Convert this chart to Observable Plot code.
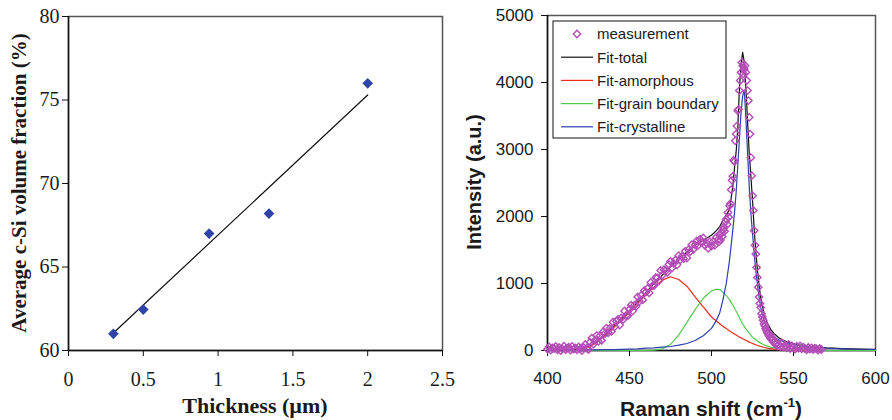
<!DOCTYPE html>
<html><head><meta charset="utf-8">
<script src="https://cdn.jsdelivr.net/npm/d3@7"></script>
<script src="https://cdn.jsdelivr.net/npm/@observablehq/plot@0.6"></script>
<style>
html,body{margin:0;padding:0;background:#fff;}
#wrap{display:flex;width:892px;height:420px;overflow:hidden;}
#wrap svg{display:block;flex:none;}
</style></head><body><div id="wrap"></div>
<script>
// ---------- Left panel data ----------
const thickness = [0.3, 0.5, 0.94, 1.34, 2.0];
const fraction = [61.0, 62.45, 67.0, 68.2, 76.0];
const trendThick = [0.3, 2.0];
const trendFrac = [61.05, 75.3];
const thickTicks = [0, 0.5, 1, 1.5, 2, 2.5];
const fracTicks = [60, 65, 70, 75, 80];

// ---------- Right panel data ----------
const ramanTicks = [400, 450, 500, 550, 600];
const intensityTicks = [0, 1000, 2000, 3000, 4000, 5000];

// measurement: segment A 400..504 step 1
const measAStart = 400, measAStep = 1;
const measA = [
  20,55,5,40,30,60,10,45,0,25,
  65,15,35,50,5,60,20,40,10,55,
  25,0,45,90,35,15,125,185,95,150,
  225,135,220,150,280,250,335,265,330,285,
  425,355,435,465,380,485,460,590,525,520,
  615,675,590,675,660,800,735,820,755,895,
  870,925,860,1015,965,970,1090,1085,1040,1195,
  1125,1205,1190,1165,1285,1330,1235,1300,1350,1280,
  1415,1355,1405,1370,1480,1380,1505,1475,1580,1510,
  1575,1635,1575,1660,1610,1680,1570,1600,1525,1625,
  1560,1625,1570,1690,1655
];
// segment B 504.5..540 step 0.5
const measBStart = 504.5, measBStep = 0.5;
const measB = [
  1620,1720,1650,1760,1700,1800,1840,1780,1920,1960,
  1880,2060,1990,2160,2190,2400,2540,2600,2840,2820,
  3130,3230,3350,3580,3600,3880,4030,4150,4300,4250,
  4130,4200,4250,4150,4030,3880,3730,3480,3230,2880,
  2610,2310,2090,1790,1570,1440,1240,1090,945,800,
  700,640,550,500,450,400,370,330,300,270,
  250,220,240,180,200,150,170,120,140,90,
  110,70
];
// segment C 541..567 step 1
const measCStart = 541, measCStep = 1;
const measC = [
  90,60,110,50,80,40,90,30,70,45,
  20,60,35,70,25,50,30,10,45,20,
  40,15,35,25,5,30,15
];

// fit curves
const fitShift = [400,410,420,425,430,435,440,445,450,455,
  460,465,470,475,480,485,490,495,500,503,
  505,507,509,511,513,514,515,516,517,518,
  519,520,521,522,523,524,525,526,527,528,
  529,530,532,534,536,538,541,544,548,552,
  557,562,570,580,590,600];
const fitTotal = [0,5,20,60,130,235,345,470,590,725,
  865,1000,1125,1250,1365,1470,1570,1650,1720,1790,
  1850,1940,2020,2110,2450,2720,2960,3300,3900,4270,
  4450,4300,3900,3420,2950,2600,2250,1820,1480,1200,
  980,780,560,410,320,255,190,150,115,90,
  68,52,38,27,20,16];
const fitAmorphous = [0,0,10,50,120,220,330,450,570,700,
  830,950,1050,1100,1060,960,800,650,500,440,
  400,360,330,290,260,245,230,215,200,190,
  175,165,150,140,125,115,105,95,85,75,
  68,60,45,35,28,20,12,6,2,0,
  0,0,0,0,0,0];
const fitGrain = [0,0,0,0,0,0,0,0,0,0,
  0,5,25,90,230,420,610,780,890,915,
  910,870,820,760,680,630,590,540,490,440,
  400,360,320,290,260,230,200,180,160,140,
  125,110,85,65,50,38,22,12,5,2,
  0,0,0,0,0,0];
const fitCrystalline = [0,3,5,8,10,12,14,16,20,25,
  35,40,50,60,80,105,150,220,330,450,
  560,760,1000,1350,1800,2050,2350,2750,3150,3550,
  3800,3880,3450,2950,2450,2050,1750,1450,1200,990,
  800,640,440,320,250,200,160,130,100,80,
  62,48,35,25,19,15];

const seriesNames = ["measurement", "Fit-total", "Fit-amorphous", "Fit-grain boundary", "Fit-crystalline"];
const seriesColors = ["#b54cb8", "#111111", "#ee2b1f", "#55c94f", "#2b3fae"];

// ---------- build tables ----------
const pts = thickness.map((t, i) => ({t, f: fraction[i]}));
const trend = trendThick.map((t, i) => ({t, f: trendFrac[i]}));
const meas = [
  ...measA.map((v, i) => ({x: measAStart + i * measAStep, y: v})),
  ...measB.map((v, i) => ({x: measBStart + i * measBStep, y: v})),
  ...measC.map((v, i) => ({x: measCStart + i * measCStep, y: v}))
];
const fits = [fitTotal, fitAmorphous, fitGrain, fitCrystalline].map((arr, k) =>
  arr.map((v, i) => ({x: fitShift[i], y: v, s: seriesNames[k + 1]})));

const wrap = document.getElementById("wrap");

// ---------- left panel ----------
const left = Plot.plot({
  width: 460, height: 420,
  marginLeft: 68, marginRight: 18, marginTop: 16, marginBottom: 70,
  style: {fontFamily: "Liberation Serif", fontSize: "20px", color: "#111", background: "#fff"},
  x: {domain: [0, 2.5]},
  y: {domain: [60, 80]},
  marks: [
    Plot.frame({stroke: "#555", strokeWidth: 1.5}),
    Plot.ruleX([0], {stroke: "#111", strokeWidth: 1.5}),
    Plot.ruleY([60], {stroke: "#111", strokeWidth: 1.5}),
    Plot.axisX({ticks: thickTicks, tickSize: 6, tickPadding: 15, label: null, tickFormat: d => String(d), fill: "#1a1a1a"}),
    Plot.axisY({ticks: fracTicks, tickSize: 6, tickPadding: 3, label: null, tickFormat: d => String(d), fill: "#1a1a1a"}),
    Plot.line(trend, {x: "t", y: "f", stroke: "#111", strokeWidth: 1.2}),
    Plot.dot(pts, {x: "t", y: "f", symbol: "diamond2", r: 4.8, fill: "#2e44a6", stroke: "none"})
  ]
});
const ls = d3.select(left);
ls.append("text")
  .attr("transform", "translate(26,183) rotate(-90)")
  .attr("text-anchor", "middle")
  .attr("font-family", "Liberation Serif").attr("font-weight", "bold").attr("font-size", 21)
  .attr("fill", "#1a1a1a")
  .text("Average c-Si volume fraction (%)");
ls.append("text")
  .attr("x", 255).attr("y", 413)
  .attr("text-anchor", "middle")
  .attr("font-family", "Liberation Serif").attr("font-weight", "bold").attr("font-size", 22)
  .attr("fill", "#1a1a1a")
  .text("Thickness (\u00b5m)");
wrap.appendChild(left);

// ---------- right panel ----------
const right = Plot.plot({
  width: 432, height: 420,
  marginLeft: 87, marginRight: 17, marginTop: 15, marginBottom: 70,
  style: {fontFamily: "Liberation Sans", fontSize: "17px", color: "#111", background: "#fff"},
  x: {domain: [400, 600]},
  y: {domain: [0, 5000]},
  marks: [
    Plot.frame({stroke: "#555", strokeWidth: 1.5}),
    Plot.ruleX([400], {stroke: "#111", strokeWidth: 1.5}),
    Plot.ruleY([0], {stroke: "#111", strokeWidth: 1.5}),
    Plot.axisX({ticks: ramanTicks, tickSize: 6, tickPadding: 15, label: null, tickFormat: d => String(d), fill: "#1a1a1a"}),
    Plot.axisY({ticks: intensityTicks, tickSize: 6, tickPadding: 8, label: null, tickFormat: d => String(d), fill: "#1a1a1a"}),
    Plot.line(fits[0], {x: "x", y: "y", stroke: seriesColors[1], strokeWidth: 1.2}),
    Plot.line(fits[1], {x: "x", y: "y", stroke: seriesColors[2], strokeWidth: 1.2}),
    Plot.line(fits[2], {x: "x", y: "y", stroke: seriesColors[3], strokeWidth: 1.2}),
    Plot.line(fits[3], {x: "x", y: "y", stroke: seriesColors[4], strokeWidth: 1.2}),
    Plot.dot(meas, {x: "x", y: "y", symbol: "diamond2", r: 3.3, fill: "none", stroke: seriesColors[0], strokeWidth: 1.4})
  ]
});
const rs = d3.select(right);
rs.append("text")
  .attr("transform", "translate(21,182) rotate(-90)")
  .attr("text-anchor", "middle")
  .attr("font-family", "Liberation Sans").attr("font-weight", "bold").attr("font-size", 20)
  .attr("fill", "#1a1a1a")
  .text("Intensity (a.u.)");
const xt = rs.append("text")
  .attr("x", 251).attr("y", 416)
  .attr("text-anchor", "middle")
  .attr("font-family", "Liberation Sans").attr("font-weight", "bold").attr("font-size", 21)
  .attr("fill", "#1a1a1a");
xt.append("tspan").text("Raman shift (cm");
xt.append("tspan").attr("font-size", 13).attr("dy", -9).text("-1");
xt.append("tspan").attr("dy", 9).text(")");

// legend
const lg = rs.append("g").attr("text-anchor", "start");
lg.append("rect").attr("x", 93).attr("y", 21).attr("width", 173).attr("height", 117)
  .attr("fill", "#fff").attr("stroke", "#111").attr("stroke-width", 1);
seriesNames.forEach((name, i) => {
  const y = 34 + i * 23.2;
  if (i === 0) {
    lg.append("path").attr("transform", `translate(117,${y})`)
      .attr("d", d3.symbol(d3.symbolDiamond2, Math.PI * 3.3 * 3.3)())
      .attr("fill", "none").attr("stroke", seriesColors[0]).attr("stroke-width", 1.4);
  } else {
    lg.append("line").attr("x1", 101).attr("x2", 133).attr("y1", y).attr("y2", y)
      .attr("stroke", seriesColors[i]).attr("stroke-width", 1.2);
  }
  lg.append("text").attr("x", 137).attr("y", y + 5.3).attr("text-anchor", "start")
    .attr("font-family", "Liberation Sans").attr("font-size", 15).attr("fill", "#1a1a1a")
    .text(name);
});
wrap.appendChild(right);
</script>
</body></html>
